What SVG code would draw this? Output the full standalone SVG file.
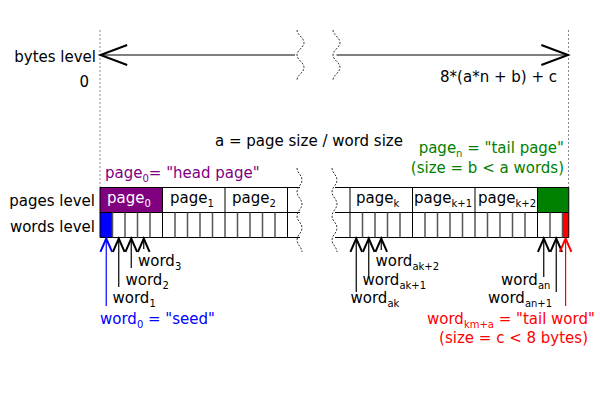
<svg xmlns="http://www.w3.org/2000/svg" width="600" height="400" viewBox="0 0 600 400">
<style>
text{font-family:"DejaVu Sans","Liberation Sans",sans-serif;font-size:15px;fill:#000}
.sub{font-size:10px}
.guide{stroke:#888;stroke-width:1;stroke-dasharray:2 2;fill:none}
.wave{stroke:#333;stroke-width:1;stroke-dasharray:2 1.5;fill:none}
.cell{stroke:#000;stroke-width:1;fill:none}
.wl{stroke:#555;stroke-width:1.5}
.pl{stroke:#000;stroke-width:1}
.ar{stroke:#000;stroke-width:1.2;fill:none}
</style>
<defs>
<marker id="hb" markerUnits="userSpaceOnUse" markerWidth="20" markerHeight="20" refX="0" refY="0" viewBox="-10 -6 12 12" orient="auto"><path d="M-8,-3.5 L0,0 L-8,3.5" fill="none" stroke="#000" stroke-width="1.2"/></marker>
<marker id="hblue" markerUnits="userSpaceOnUse" markerWidth="20" markerHeight="20" refX="0" refY="0" viewBox="-10 -6 12 12" orient="auto"><path d="M-8,-3.5 L0,0 L-8,3.5" fill="none" stroke="#00f" stroke-width="1.2"/></marker>
<marker id="hred" markerUnits="userSpaceOnUse" markerWidth="20" markerHeight="20" refX="0" refY="0" viewBox="-10 -6 12 12" orient="auto"><path d="M-8,-3.5 L0,0 L-8,3.5" fill="none" stroke="#f00" stroke-width="1.2"/></marker>
<marker id="big" markerUnits="userSpaceOnUse" markerWidth="40" markerHeight="40" refX="0" refY="0" viewBox="-20 -10 24 20" orient="auto-start-reverse"><path d="M-16,-6 L0,0 L-16,6" fill="none" stroke="#000" stroke-width="1.2"/></marker>
</defs>

<g id="guides">
<line class="guide" x1="100" y1="30" x2="100" y2="187.5"/>
<line class="guide" x1="568.5" y1="30" x2="568.5" y2="187.5"/>
</g>

<g id="bytes-level">
<text x="96" y="62" text-anchor="end">bytes level</text>
<text x="89" y="87" text-anchor="end">0</text>
<text x="557" y="82" text-anchor="end">8*(a*n + b) + c</text>
</g>

<g id="formula">
<text x="215" y="146">a = page size / word size</text>
</g>

<g id="head-label">
<text x="105" y="178" fill="#800080" style="fill:#800080">page<tspan class="sub" dy="4">0</tspan><tspan dy="-4">= "head page"</tspan></text>
</g>

<g id="tail-label">
<text x="564" y="153" text-anchor="end" style="fill:#008000">page<tspan class="sub" dy="4">n</tspan><tspan dy="-4"> = "tail page"</tspan></text>
<text x="564" y="172.5" text-anchor="end" style="fill:#008000">(size = b &lt; a words)</text>
</g>

<g id="row-labels">
<text x="95" y="206" text-anchor="end">pages level</text>
<text x="95" y="231.5" text-anchor="end">words level</text>
</g>

<g id="left-block">
<rect x="100" y="187.5" width="62.5" height="25" fill="#800080"/>
<rect x="100" y="212.5" width="12.5" height="25" fill="#0000ff"/>
<line class="pl" x1="100" y1="187.5" x2="300" y2="187.5"/>
<line class="pl" x1="100" y1="212.5" x2="300" y2="212.5"/>
<line class="pl" x1="100" y1="237.5" x2="300" y2="237.5"/>
<line class="pl" x1="100" y1="187.5" x2="100" y2="237.5"/>
<line class="pl" x1="162.5" y1="187.5" x2="162.5" y2="237.5"/>
<line class="pl" x1="225" y1="187.5" x2="225" y2="237.5"/>
<line class="pl" x1="287.5" y1="187.5" x2="287.5" y2="237.5"/>
<path class="wl" d="M112.5,212.5V237.5M125,212.5V237.5M137.5,212.5V237.5M150,212.5V237.5M175,212.5V237.5M187.5,212.5V237.5M200,212.5V237.5M212.5,212.5V237.5M237.5,212.5V237.5M250,212.5V237.5M262.5,212.5V237.5M275,212.5V237.5"/>
<text x="107" y="203" style="fill:#fff">page<tspan class="sub" dy="4" style="fill:#fff">0</tspan></text>
<text x="170" y="203">page<tspan class="sub" dy="4">1</tspan></text>
<text x="232" y="203">page<tspan class="sub" dy="4">2</tspan></text>
</g>

<g id="right-block">
<rect x="537.5" y="187.5" width="31.25" height="25" fill="#008000"/>
<rect x="562.5" y="212.5" width="6.25" height="25" fill="#ff0000"/>
<line class="pl" x1="335" y1="187.5" x2="568.75" y2="187.5"/>
<line class="pl" x1="335" y1="212.5" x2="568.75" y2="212.5"/>
<line class="pl" x1="335" y1="237.5" x2="568.75" y2="237.5"/>
<line class="pl" x1="350" y1="187.5" x2="350" y2="237.5"/>
<line class="pl" x1="412.5" y1="187.5" x2="412.5" y2="237.5"/>
<line class="pl" x1="475" y1="187.5" x2="475" y2="237.5"/>
<line class="pl" x1="537.5" y1="187.5" x2="537.5" y2="237.5"/>
<line class="pl" x1="568.75" y1="187.5" x2="568.75" y2="237.5"/>
<path class="wl" d="M362.5,212.5V237.5M375,212.5V237.5M387.5,212.5V237.5M400,212.5V237.5M425,212.5V237.5M437.5,212.5V237.5M450,212.5V237.5M462.5,212.5V237.5M487.5,212.5V237.5M500,212.5V237.5M512.5,212.5V237.5M525,212.5V237.5M550,212.5V237.5M562.5,212.5V237.5"/>
<text x="356" y="203">page<tspan class="sub" dy="4">k</tspan></text>
<text x="414" y="203">page<tspan class="sub" dy="4">k+1</tspan></text>
<text x="478" y="203">page<tspan class="sub" dy="4">k+2</tspan></text>
</g>

<g id="breaks">
<path class="wave" d="M297,30 C297,35 304,37.5 304,42.5 S297,50 297,55 S304,62.5 304,67.5 S297,75 297,80"/>
<path class="wave" d="M333,30 C333,35 340,37.5 340,42.5 S333,50 333,55 S340,62.5 340,67.5 S333,75 333,80"/>
<path class="wave" d="M297,168 C297,173 302,175 302,180 S297,187 297,192 S302,199 302,204 S297,211 297,216 S302,223 302,228 S297,235 297,240 S302,247 302,252"/>
<path class="wave" d="M332,168 C332,173 337,175 337,180 S332,187 332,192 S337,199 337,204 S332,211 332,216 S337,223 337,228 S332,235 332,240 S337,247 337,252"/>
</g>

<g id="connectors">
<line class="ar" x1="295" y1="55" x2="100.5" y2="55" marker-end="url(#big)"/>
<line class="ar" x1="336.5" y1="55" x2="568" y2="55" marker-end="url(#big)"/>
<line x1="106.25" y1="306" x2="106.25" y2="238.5" stroke="#00f" stroke-width="1.2" marker-end="url(#hblue)"/>
<line class="ar" x1="118.75" y1="287" x2="118.75" y2="238.5" marker-end="url(#hb)"/>
<line class="ar" x1="131.25" y1="268" x2="131.25" y2="238.5" marker-end="url(#hb)"/>
<line class="ar" x1="143.75" y1="249" x2="143.75" y2="238.5" marker-end="url(#hb)"/>
<line class="ar" x1="356.25" y1="292" x2="356.25" y2="238.5" marker-end="url(#hb)"/>
<line class="ar" x1="368.75" y1="277" x2="368.75" y2="238.5" marker-end="url(#hb)"/>
<line class="ar" x1="381.25" y1="250" x2="381.25" y2="238.5" marker-end="url(#hb)"/>
<line class="ar" x1="543.75" y1="277" x2="543.75" y2="238.5" marker-end="url(#hb)"/>
<line class="ar" x1="556.25" y1="292" x2="556.25" y2="238.5" marker-end="url(#hb)"/>
<line x1="565.6" y1="306" x2="565.6" y2="238.5" stroke="#f00" stroke-width="1.2" marker-end="url(#hred)"/>
</g>

<g id="word-labels">
<text x="138" y="266">word<tspan class="sub" dy="4">3</tspan></text>
<text x="125.5" y="285">word<tspan class="sub" dy="4">2</tspan></text>
<text x="112.5" y="302.5">word<tspan class="sub" dy="4">1</tspan></text>
<text x="100" y="324" style="fill:#00f">word<tspan class="sub" dy="4">0</tspan><tspan dy="-4"> = "seed"</tspan></text>
<text x="375.5" y="266">word<tspan class="sub" dy="4">ak+2</tspan></text>
<text x="362.5" y="285">word<tspan class="sub" dy="4">ak+1</tspan></text>
<text x="350.5" y="302.5">word<tspan class="sub" dy="4">ak</tspan></text>
<text x="501" y="285">word<tspan class="sub" dy="4">an</tspan></text>
<text x="488" y="302.5">word<tspan class="sub" dy="4">an+1</tspan></text>
<text x="427" y="324" style="fill:#f00">word<tspan class="sub" dy="4">km+a</tspan><tspan dy="-4"> = "tail word"</tspan></text>
<text x="588" y="342.5" text-anchor="end" style="fill:#f00">(size = c &lt; 8 bytes)</text>
</g>
</svg>
